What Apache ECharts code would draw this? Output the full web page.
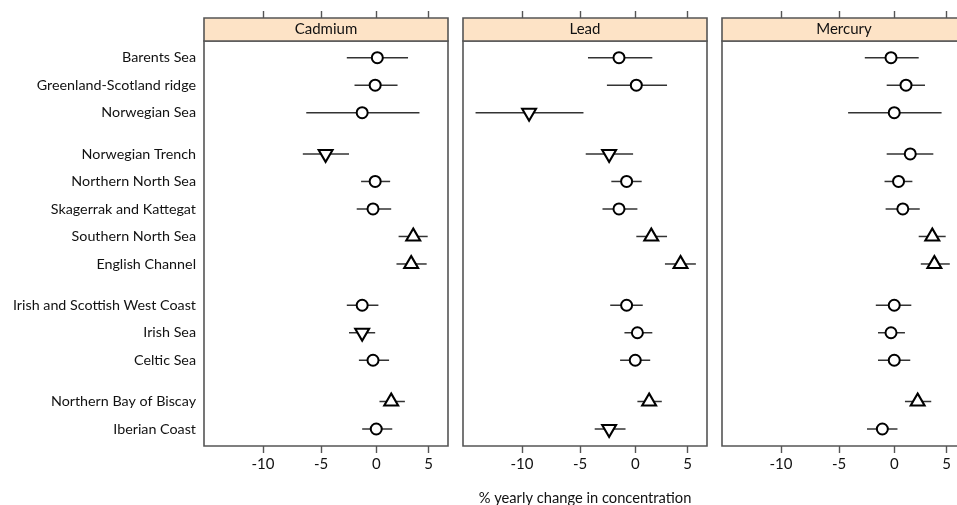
<!DOCTYPE html>
<html>
<head>
<meta charset="utf-8">
<script src="https://cdn.jsdelivr.net/npm/echarts@6/dist/echarts.min.js"></script>
<style>
  html, body { margin: 0; padding: 0; background: #fff; }
  #chart { width: 957px; height: 505px; }
</style>
</head>
<body>
<div id="chart"></div>
<script>
// Sea regions, top to bottom, and their row positions (gaps separate regional groups)
const regions = [
  'Barents Sea', 'Greenland-Scotland ridge', 'Norwegian Sea',
  'Norwegian Trench', 'Northern North Sea', 'Skagerrak and Kattegat',
  'Southern North Sea', 'English Channel',
  'Irish and Scottish West Coast', 'Irish Sea', 'Celtic Sea',
  'Northern Bay of Biscay', 'Iberian Coast'
];
const rowPos = [0, 1, 2, 3.5, 4.5, 5.5, 6.5, 7.5, 9, 10, 11, 12.5, 13.5];

const metals = ['Cadmium', 'Lead', 'Mercury'];

// % yearly change: estimate, lower and upper limits, trend marker
const cadmiumMid  = [0.1, -0.1, -1.3, -4.6, -0.1, -0.3, 3.5, 3.3, -1.3, -1.3, -0.3, 1.4, 0.0];
const cadmiumLow  = [-2.7, -2.0, -6.3, -6.6, -1.4, -1.8, 2.1, 1.9, -2.7, -2.5, -1.6, 0.3, -1.3];
const cadmiumHigh = [3.0, 2.0, 4.1, -2.5, 1.3, 1.4, 4.9, 4.8, 0.2, -0.1, 1.2, 2.7, 1.5];
const cadmiumTrend = ['o', 'o', 'o', 'down', 'o', 'o', 'up', 'up', 'o', 'down', 'o', 'up', 'o'];

const leadMid  = [-1.5, 0.1, -9.4, -2.4, -0.8, -1.5, 1.5, 4.3, -0.8, 0.2, 0.0, 1.3, -2.4];
const leadLow  = [-4.3, -2.6, -13.8, -4.5, -2.2, -3.0, 0.1, 2.8, -2.3, -1.0, -1.4, 0.2, -3.7];
const leadHigh = [1.6, 3.0, -4.7, -0.2, 0.6, 0.2, 3.0, 5.8, 0.7, 1.6, 1.4, 2.5, -0.9];
const leadTrend = ['o', 'o', 'down', 'down', 'o', 'o', 'up', 'up', 'o', 'o', 'o', 'up', 'down'];

const mercuryMid  = [-0.3, 1.1, 0.0, 1.5, 0.4, 0.8, 3.6, 3.8, 0.0, -0.3, 0.0, 2.2, -1.1];
const mercuryLow  = [-2.7, -0.7, -4.2, -0.7, -0.9, -0.8, 2.3, 2.5, -1.7, -1.5, -1.5, 1.0, -2.5];
const mercuryHigh = [2.3, 2.9, 4.5, 3.7, 1.7, 2.4, 4.9, 5.3, 1.6, 1.0, 1.5, 3.5, 0.3];
const mercuryTrend = ['o', 'o', 'o', 'o', 'o', 'o', 'up', 'up', 'o', 'o', 'o', 'up', 'o'];

const xTicks = [-10, -5, 0, 5];
const xRange = [-14.8, 6.9];
const xTitle = '% yearly change in concentration';

const panels = [
  { mid: cadmiumMid, low: cadmiumLow, high: cadmiumHigh, trend: cadmiumTrend },
  { mid: leadMid, low: leadLow, high: leadHigh, trend: leadTrend },
  { mid: mercuryMid, low: mercuryLow, high: mercuryHigh, trend: mercuryTrend }
];

// Changes are shown on a log-ratio scale: ln(1 + p/100)
const toScale = p => Math.log(1 + p / 100);
const fromScale = v => (Math.exp(v) - 1) * 100;

// Layout
const FONT = 'Lato';
const panelLeft = [204, 463, 722];
const panelWidth = 244;
const plotTop = 41;
const plotHeight = 405;
const stripHeight = 23;
const frameColor = '#555';
const textColor = '#111';

// circle = no trend, triangles = increase / decrease (centred on their centroid)
const symbolFor = t => t === 'up' ? 'triangle'
  : t === 'down' ? 'path://M0,0 L14,0 L7,12 Z' : 'circle';
const sizeFor = t => t === 'o' ? 11 : [14, 12];
const offsetFor = t => t === 'up' ? [0, -2] : t === 'down' ? [0, 2] : [0, 0];

const grids = [], xAxes = [], yAxes = [], series = [], graphics = [];

panels.forEach((p, i) => {
  grids.push({
    left: panelLeft[i], top: plotTop, width: panelWidth, height: plotHeight,
    outerBoundsMode: 'none', containLabel: false,
    show: true, borderColor: frameColor, borderWidth: 1.6, backgroundColor: '#fff'
  });

  // bottom axis with labels
  xAxes.push({
    type: 'value', gridIndex: i, position: 'bottom',
    min: toScale(xRange[0]), max: toScale(xRange[1]),
    axisLine: { show: false, onZero: false },
    splitLine: { show: false },
    axisTick: { show: true, length: 7, inside: false, customValues: xTicks.map(toScale),
      lineStyle: { color: frameColor, width: 1.4 } },
    axisLabel: { show: true, margin: 11, customValues: xTicks.map(toScale),
      fontFamily: FONT, fontSize: 15, color: textColor,
      formatter: v => String(Math.round(fromScale(v))) },
    name: i === 1 ? xTitle : '', nameLocation: 'middle', nameGap: 45,
    nameTextStyle: { fontFamily: FONT, fontSize: 14.7, color: textColor }
  });
  // top axis: ticks above the strip
  xAxes.push({
    type: 'value', gridIndex: i, position: 'top', offset: stripHeight,
    min: toScale(xRange[0]), max: toScale(xRange[1]),
    axisLine: { show: false, onZero: false },
    splitLine: { show: false },
    axisTick: { show: true, length: 7, customValues: xTicks.map(toScale),
      lineStyle: { color: frameColor, width: 1.4 } },
    axisLabel: { show: false }
  });

  yAxes.push({
    type: 'value', gridIndex: i, inverse: true,
    min: -0.607, max: 14.118,
    axisLine: { show: false, onZero: false }, axisTick: { show: false }, splitLine: { show: false },
    axisLabel: {
      show: i === 0, margin: 8, customValues: rowPos,
      fontFamily: FONT, fontSize: 14.3, color: textColor,
      formatter: v => {
        const k = rowPos.findIndex(r => Math.abs(r - v) < 1e-6);
        return k >= 0 ? regions[k] : '';
      }
    }
  });

  // confidence interval whiskers
  series.push({
    type: 'custom', xAxisIndex: i * 2, yAxisIndex: i, z: 2,
    data: regions.map((_, k) => [toScale(p.low[k]), toScale(p.high[k]), rowPos[k]]),
    encode: { x: [0, 1], y: 2 },
    renderItem: (params, api) => {
      const a = api.coord([api.value(0), api.value(2)]);
      const b = api.coord([api.value(1), api.value(2)]);
      return {
        type: 'line',
        shape: { x1: a[0], y1: a[1], x2: b[0], y2: b[1] },
        style: { stroke: '#333', lineWidth: 1.5 }
      };
    }
  });

  // estimates with trend markers
  series.push({
    type: 'scatter', xAxisIndex: i * 2, yAxisIndex: i, z: 3,
    data: regions.map((_, k) => ({
      value: [toScale(p.mid[k]), rowPos[k]],
      symbol: symbolFor(p.trend[k]),
      symbolSize: sizeFor(p.trend[k]),
      symbolOffset: offsetFor(p.trend[k])
    })),
    itemStyle: { color: '#fff', borderColor: '#000', borderWidth: 2, opacity: 1 },
    emphasis: { disabled: true }
  });

  // strip header with metal name
  graphics.push({
    type: 'rect', z: 10,
    shape: { x: panelLeft[i], y: plotTop - stripHeight, width: panelWidth, height: stripHeight },
    style: { fill: '#fde3c6', stroke: frameColor, lineWidth: 1.6 }
  });
  graphics.push({
    type: 'text', z: 11,
    x: panelLeft[i] + panelWidth / 2, y: plotTop - stripHeight / 2,
    style: { text: metals[i], fontFamily: FONT, fontSize: 15, fill: textColor,
      align: 'center', verticalAlign: 'middle' }
  });
});

const chart = echarts.init(document.getElementById('chart'), null, { renderer: 'canvas' });
chart.setOption({
  animation: false,
  backgroundColor: '#fff',
  grid: grids,
  xAxis: xAxes,
  yAxis: yAxes,
  series: series,
  graphic: graphics
});
</script>
</body>
</html>
